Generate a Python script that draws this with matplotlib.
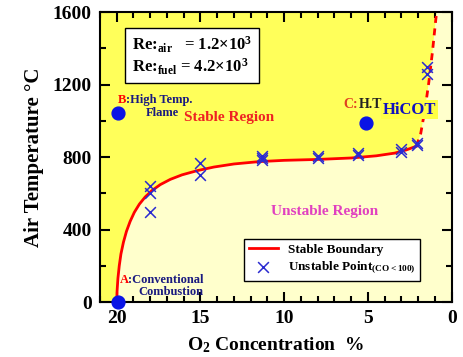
import matplotlib
matplotlib.use("Agg")
import matplotlib.pyplot as plt
from matplotlib.ticker import MultipleLocator

plt.rcParams["font.family"] = "Liberation Serif"
plt.rcParams["font.weight"] = "bold"
plt.rcParams["mathtext.fontset"] = "custom"
plt.rcParams["mathtext.rm"] = "Liberation Serif:bold"
plt.rcParams["mathtext.it"] = "Liberation Serif:bold"
plt.rcParams["mathtext.bf"] = "Liberation Serif:bold"

# stable boundary (solid part + extrapolated dashed part)
bound_o2 = [20.0, 19.98, 19.93, 19.85, 19.75, 19.6, 19.42, 19.2, 18.95, 18.65, 18.3,
            17.9, 17.4, 16.8, 16.1, 15.2, 14.2, 13.0, 11.5, 10.0, 8.0, 6.0, 4.5,
            3.4, 2.7, 2.1]
bound_t = [0, 60, 130, 200, 265, 330, 390, 445, 495, 540, 580,
           615, 648, 677, 702, 725, 745, 762, 775, 782, 787, 795, 807,
           822, 840, 860]
dash_o2 = [2.1, 1.85, 1.6, 1.37, 1.15, 0.95, 0.88]
dash_t = [860, 930, 1060, 1210, 1380, 1560, 1610]

# unstable points (CO<100)
pt_o2 = [18.0, 18.0, 18.0, 15.0, 15.0, 11.3, 11.3, 11.3, 8.0, 8.0,
         5.6, 5.6, 3.0, 3.0, 2.1, 2.1, 1.5, 1.5]
pt_t = [640, 600, 497, 767, 701, 805, 795, 785, 805, 795,
        822, 812, 845, 830, 880, 865, 1295, 1260]

# labelled operating points A, B, C
dot_o2 = [19.95, 19.9, 5.1]
dot_t = [0, 1043, 988]

yellow = "#ffff5a"
pale = "#ffffcc"
navy = "#1a1a80"

fig = plt.figure(figsize=(4.64, 3.57), dpi=100)
ax = fig.add_axes([0.2155, 0.154, 0.758, 0.812])
ax.set_facecolor(yellow)

# pale "unstable" region below / right of boundary
poly_x = bound_o2 + dash_o2[1:] + [0.0, 0.0]
poly_y = bound_t + dash_t[1:] + [1610, 0]
ax.fill(poly_x, poly_y, color=pale, zorder=1, lw=0)

ax.plot(bound_o2, bound_t, color="red", lw=2, zorder=3, label="Stable Boundary")
ax.plot(dash_o2, dash_t, color="red", lw=2, ls=(0, (2.5, 2)), zorder=3)
ax.scatter(pt_o2, pt_t, marker="x", s=60, color="#2a2ad0", lw=1.1, zorder=4,
           label="Unstable Point$_{\\rm (CO<100)}$")
ax.scatter(dot_o2, dot_t, s=85, color="#0a14e6", zorder=5, clip_on=False)

ax.set_xlim(21, 0)
ax.set_ylim(0, 1600)
ax.xaxis.set_major_locator(MultipleLocator(5))
ax.xaxis.set_minor_locator(MultipleLocator(1))
ax.yaxis.set_major_locator(MultipleLocator(400))
ax.yaxis.set_minor_locator(MultipleLocator(200))
ax.tick_params(which="both", direction="in", top=True, right=True, width=1.5)
ax.tick_params(which="major", length=7, labelsize=14, pad=6)
ax.tick_params(which="minor", length=4)
for s in ax.spines.values():
    s.set_linewidth(1.5)
for lab in ax.get_xticklabels() + ax.get_yticklabels():
    lab.set_fontweight("bold")

ax.set_ylabel("Air Temperature \u00b0C", fontsize=15, fontweight="bold", labelpad=6)
ax.set_xlabel("O$_{2}$ Concentration  %", fontsize=14, fontweight="bold", labelpad=6)

# region labels
ax.text(13.3, 1020, "Stable Region", color="#ee2222", fontsize=11, ha="center", va="center", zorder=6)
ax.text(7.6, 502, "Unstable Region", color="#e040c0", fontsize=11, ha="center", va="center", zorder=6)

# point labels
ax.text(19.45, 1114, "B", color="red", fontsize=9, ha="right", va="center", zorder=6)
ax.text(19.45, 1114, ":High Temp.", color=navy, fontsize=9, ha="left", va="center", zorder=6)
ax.text(17.3, 1045, "Flame", color=navy, fontsize=9, ha="center", va="center", zorder=6)
ax.text(19.3, 121, "A", color="red", fontsize=9, ha="right", va="center", zorder=6)
ax.text(19.3, 121, ":Conventional", color=navy, fontsize=9, ha="left", va="center", zorder=6)
ax.text(16.75, 55, "Combustion", color=navy, fontsize=9, ha="center", va="center", zorder=6)
ax.text(6.45, 1092, "C:", color="#e04020", fontsize=10, ha="left", va="center", zorder=6)
ax.text(5.55, 1092, "H.T", color="#222222", fontsize=10, ha="left", va="center", zorder=6)
ax.text(2.5, 1062, "HiCOT", color="#1010c0", fontsize=12, ha="center", va="center", zorder=7,
        bbox=dict(boxstyle="square,pad=0.1", fc="#ffff44", ec="none"))

# Reynolds number box
ax.text(19.1, 1360, "Re:$_{\\rm air}$   = 1.2$\\times$10$^{3}$\nRe:$_{\\rm fuel}$ = 4.2$\\times$10$^{3}$",
        fontsize=12, ha="left", va="center", linespacing=1.1, zorder=6,
        bbox=dict(boxstyle="square,pad=0.4", fc="white", ec="black", lw=1))

leg = ax.legend(loc="lower right", bbox_to_anchor=(0.93, 0.05), fontsize=9.5, frameon=True,
                fancybox=False, edgecolor="black", framealpha=1, handlelength=2.2,
                borderpad=0.35, labelspacing=0.3)
leg.get_frame().set_linewidth(1)
leg.set_zorder(8)

fig.savefig("out.png", dpi=100)
